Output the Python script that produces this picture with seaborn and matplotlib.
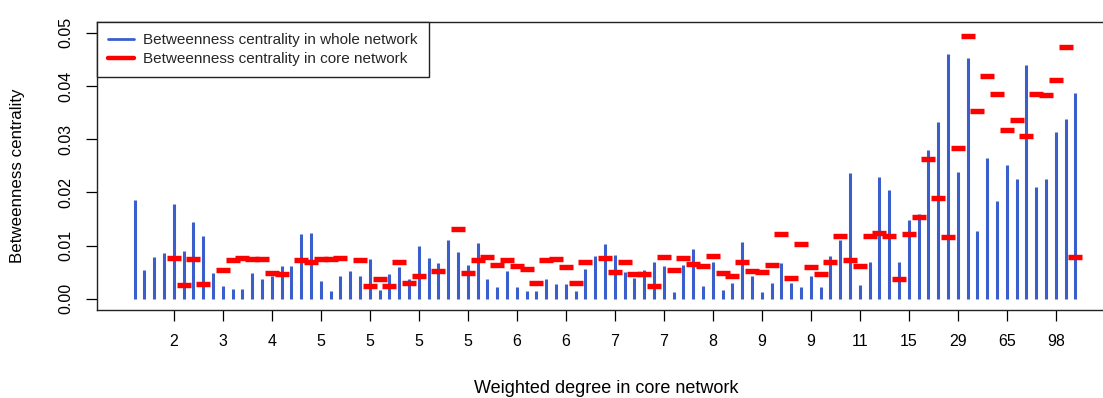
import numpy as np
import pandas as pd
import matplotlib
matplotlib.use("Agg")
import matplotlib.pyplot as plt
from matplotlib.lines import Line2D
import seaborn as sns

# Betweenness centrality of each node, ordered by weighted degree in the core network
whole = [
    0.0186, 0.0055, 0.0079, 0.0087, 0.0178, 0.0090, 0.0144, 0.0118, 0.0048, 0.0024,
    0.0019, 0.0019, 0.0048, 0.0037, 0.0043, 0.0061, 0.0061, 0.0121, 0.0123, 0.0033,
    0.0015, 0.0043, 0.0053, 0.0042, 0.0074, 0.0016, 0.0046, 0.0059, 0.0037, 0.0099,
    0.0076, 0.0068, 0.0110, 0.0088, 0.0063, 0.0104, 0.0037, 0.0022, 0.0053, 0.0022,
    0.0015, 0.0015, 0.0037, 0.0028, 0.0028, 0.0015, 0.0057, 0.0081, 0.0103, 0.0083,
    0.0050, 0.0039, 0.0055, 0.0070, 0.0061, 0.0012, 0.0063, 0.0094, 0.0025, 0.0070,
    0.0017, 0.0030, 0.0107, 0.0043, 0.0012, 0.0030, 0.0068, 0.0030, 0.0022, 0.0043,
    0.0022, 0.0081, 0.0110, 0.0237, 0.0026, 0.0070, 0.0228, 0.0204, 0.0070, 0.0149,
    0.0160, 0.0279, 0.0332, 0.0459, 0.0239, 0.0452, 0.0127, 0.0264, 0.0184, 0.0252,
    0.0226, 0.0439, 0.0211, 0.0226, 0.0314, 0.0338, 0.0387,
]

nan = np.nan
core = [
    nan, nan, nan, nan, 0.0077, 0.0026, 0.0074, 0.0028, nan, 0.0055,
    0.0073, 0.0077, 0.0075, 0.0075, 0.0048, 0.0046, nan, 0.0073, 0.0070, 0.0074,
    0.0074, 0.0077, nan, 0.0073, 0.0024, 0.0037, 0.0024, 0.0070, 0.0029, 0.0043,
    nan, 0.0053, nan, 0.0131, 0.0048, 0.0073, 0.0079, 0.0064, 0.0073, 0.0062,
    0.0057, 0.0030, 0.0073, 0.0075, 0.0059, 0.0029, 0.0070, nan, 0.0077, 0.0050,
    0.0070, 0.0046, 0.0046, 0.0024, 0.0079, 0.0055, 0.0077, 0.0066, 0.0061, 0.0081,
    0.0048, 0.0043, 0.0070, 0.0053, 0.0050, 0.0063, 0.0121, 0.0040, 0.0103, 0.0059,
    0.0046, 0.0070, 0.0118, 0.0073, 0.0061, 0.0118, 0.0123, 0.0118, 0.0038, 0.0121,
    0.0154, 0.0262, 0.0189, 0.0117, 0.0283, 0.0493, 0.0352, 0.0418, 0.0385, 0.0318,
    0.0336, 0.0305, 0.0385, 0.0382, 0.0411, 0.0473, 0.0079,
]

# Weighted degree shown under every fifth node
tick_labels = ["2", "3", "4", "5", "5", "5", "5", "6", "6", "7",
               "7", "8", "9", "9", "11", "15", "29", "65", "98"]

y_ticks = [0.00, 0.01, 0.02, 0.03, 0.04, 0.05]

BLUE = "#3A5FCD"
RED = "#FF0000"

sns.set_theme(style="white")
plt.rcParams["font.family"] = ["Liberation Sans", "DejaVu Sans"]

df = pd.DataFrame({"node": np.arange(1, len(whole) + 1),
                   "whole": whole, "core": core})

W, H = 1103, 398
fig = plt.figure(figsize=(W / 100, H / 100), dpi=100)
left, right, top, bottom = 97, 1113, 22, 309.5
ax = fig.add_axes([left / W, 1 - bottom / H, (right - left) / W, (bottom - top) / H])

# whole-network values as vertical spikes
ax.vlines(df["node"], 0, df["whole"], color=BLUE, linewidth=2.2)

# core-network values as short horizontal dashes
sns.scatterplot(data=df.dropna(), x="node", y="core", marker="_", s=115,
                linewidth=3.9, color=RED, edgecolor=RED, ax=ax, legend=False,
                zorder=3)

n = len(whole)
pad = 0.04 * (n - 1)
ax.set_xlim(1 - pad, n + pad)
ax.set_ylim(-0.002, 0.052)

ax.set_xticks(np.arange(5, n, 5))
ax.set_xticklabels(tick_labels, fontsize=11.5)
ax.set_yticks(y_ticks)
ax.set_yticklabels([f"{v:.2f}" for v in y_ticks], fontsize=11.5,
                   rotation=90, va="center")
ax.tick_params(axis="x", direction="out", length=8, width=0.9, pad=10,
               color="black", labelcolor="black", bottom=True)
ax.tick_params(axis="y", direction="out", length=8, width=0.9, pad=9,
               color="black", labelcolor="black", left=True)
ax.set_xlabel("")
ax.set_ylabel("")

for sp in ax.spines.values():
    sp.set_color("#222222")
    sp.set_linewidth(1.0)

fig.text(18 / W, 1 - 176 / H, "Betweenness centrality", rotation=90,
         ha="center", va="center", fontsize=12.2, color="black")
fig.text(606 / W, 1 - 393 / H, "Weighted degree in core network",
         ha="center", va="baseline", fontsize=13, color="black")

handles = [Line2D([], [], color=BLUE, linewidth=2.0),
           Line2D([], [], color=RED, linewidth=3.2)]
leg = ax.legend(handles,
                ["Betweenness centrality in whole network",
                 "Betweenness centrality in core network"],
                loc="upper left", bbox_to_anchor=(0, 1), borderaxespad=0,
                fontsize=11, frameon=True, fancybox=False, framealpha=1,
                edgecolor="#222222", handlelength=1.7, handletextpad=0.55,
                labelspacing=0.3, borderpad=0.75)
leg.get_frame().set_linewidth(1.0)

fig.savefig("out.png", dpi=100)
